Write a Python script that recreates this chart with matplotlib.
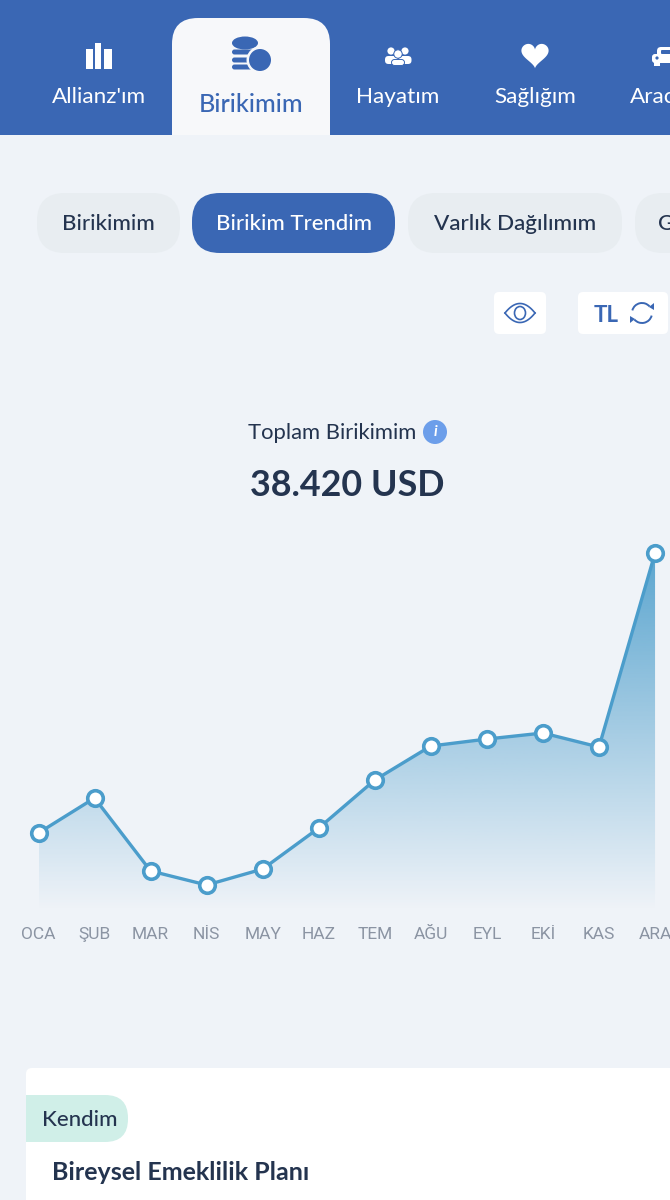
import matplotlib
matplotlib.use("Agg")
import matplotlib.pyplot as plt
import numpy as np
from matplotlib.colors import to_rgb
from matplotlib.patches import Circle, Ellipse, FancyBboxPatch, Polygon, Rectangle, Arc

plt.rcParams['font.family'] = ['Lato', 'DejaVu Sans']

# chart data (USD)
months = ['OCA', 'ŞUB', 'MAR', 'NİS', 'MAY', 'HAZ', 'TEM', 'AĞU', 'EYL', 'EKİ', 'KAS', 'ARA']
savings = [8290, 12050, 4200, 2690, 4410, 8820, 13990, 17650, 18400, 19050, 17540, 38420]

nav_labels = ["Allianz'ım", 'Hayatım', 'Sağlığım', 'Arac']
nav_x = [99, 398, 535, 630]
pill_labels = ['Birikimim', 'Birikim Trendim', 'Varlık Dağılımım']

BLUE = '#3a67b4'
PAGE = '#eff3f8'
DARK = '#24344f'
LINE = '#4b9dcb'


def box(ax, x0, y0, x1, y1, r, color, z=5):
    ax.add_patch(FancyBboxPatch((x0, y0), x1 - x0, y1 - y0, boxstyle=f'round,pad=0,rounding_size={r}',
                                fc=color, ec='none', zorder=z))


fig = plt.figure(figsize=(6.7, 12), dpi=100, facecolor=PAGE)

# page furniture, in pixel coordinates
ui = fig.add_axes([0, 0, 1, 1])
ui.set_xlim(0, 670)
ui.set_ylim(1200, 0)
ui.axis('off')

ui.add_patch(Rectangle((0, 0), 670, 134.5, fc=BLUE, ec='none', zorder=1))
box(ui, 172, 18, 330, 170, 26, '#f7f8fa', z=2)
ui.add_patch(Rectangle((0, 134.5), 670, 1066, fc=PAGE, ec='none', zorder=3))

for label, x in zip(nav_labels, nav_x):
    ha = 'left' if label == 'Arac' else 'center'
    ui.text(x, 97, label, color='white', fontsize=16.2, ha=ha, va='center', zorder=6)
ui.text(251, 104, 'Birikimim', color=BLUE, fontsize=18, fontweight='medium', ha='center', va='center', zorder=6)

# bars icon
for x0, x1, top in [(86, 93, 49), (95, 101, 43), (104, 112, 49)]:
    ui.add_patch(Rectangle((x0, top), x1 - x0, 69 - top, fc='white', ec='none', zorder=6))

# coins icon
ui.add_patch(Ellipse((245, 43), 26, 13, fc=BLUE, ec='none', zorder=6))
for y in [52, 60, 67]:
    box(ui, 232, y - 2.5, 256, y + 2.5, 2.5, BLUE, z=6)
ui.add_patch(Circle((260, 60), 13.5, fc='#f7f8fa', ec='none', zorder=7))
ui.add_patch(Circle((260, 60), 11, fc=BLUE, ec='none', zorder=8))

# people icon
for cx in [391, 405]:
    ui.add_patch(Circle((cx, 51), 3.6, fc='white', ec='none', zorder=6))
    box(ui, cx - 6, 56, cx + 6.5, 64, 3.5, 'white', z=6)
ui.add_patch(Circle((398, 54), 4.2, fc='white', ec=BLUE, lw=0.7, zorder=7))
ui.add_patch(FancyBboxPatch((391.5, 59.5), 13, 6, boxstyle='round,pad=0,rounding_size=3', fc='white', ec=BLUE, lw=0.7, zorder=7))

# heart icon
hx = np.linspace(0, 2 * np.pi, 120)
ui.add_patch(Polygon(np.column_stack([535 + 0.85 * 16 * np.sin(hx) ** 3,
                                      54 - 0.85 * (13 * np.cos(hx) - 5 * np.cos(2 * hx) - 2 * np.cos(3 * hx) - np.cos(4 * hx))]),
                     fc='white', ec='none', zorder=6))

# car icon
box(ui, 652, 54, 690, 63, 3, 'white', z=6)
box(ui, 657, 47, 690, 58, 4, 'white', z=6)
box(ui, 661, 50, 690, 54, 1, BLUE, z=7)
ui.add_patch(Rectangle((654, 62), 6, 4, fc='white', ec='none', zorder=6))
ui.add_patch(Circle((657, 58), 1.6, fc=BLUE, ec='none', zorder=7))

# pills
box(ui, 37, 193, 180, 253, 28, '#e8edf1')
box(ui, 192, 193, 395, 253, 28, BLUE)
box(ui, 408, 193, 622, 253, 28, '#e8edf1')
box(ui, 635, 193, 720, 253, 28, '#e8edf1')
ui.text(108, 224, pill_labels[0], color=DARK, fontsize=16, fontweight='medium', ha='center', va='center', zorder=6)
ui.text(294, 224, pill_labels[1], color='white', fontsize=15.9, fontweight='medium', ha='center', va='center', zorder=6)
ui.text(515, 224, pill_labels[2], color=DARK, fontsize=16.2, fontweight='medium', ha='center', va='center', zorder=6)
ui.text(658, 224, 'G', color=DARK, fontsize=15.5, fontweight='medium', ha='left', va='center', zorder=6)

# eye and currency buttons
box(ui, 494, 292, 546, 334, 5, 'white')
box(ui, 578, 292, 668, 334, 5, 'white')
ex = np.linspace(505, 535, 40)
eh = 9.5 * (1 - ((ex - 520) / 15) ** 2)
ui.plot(ex, 313 - eh, color=BLUE, lw=1.2, zorder=6)
ui.plot(ex, 313 + eh, color=BLUE, lw=1.2, zorder=6)
ui.add_patch(Ellipse((520, 313), 11, 13, fc='none', ec=BLUE, lw=1.2, zorder=6))
ui.text(606, 315, 'TL', color=BLUE, fontsize=16, fontweight='bold', ha='center', va='center', zorder=6)
ui.add_patch(Arc((642, 313), 20, 20, theta1=195, theta2=320, color=BLUE, lw=1.4, zorder=6))
ui.add_patch(Arc((642, 313), 20, 20, theta1=15, theta2=140, color=BLUE, lw=1.4, zorder=6))
ui.add_patch(Polygon([(649, 307), (654, 303), (654, 310)], fc=BLUE, ec='none', zorder=6))
ui.add_patch(Polygon([(635, 319), (630, 323), (630, 316)], fc=BLUE, ec='none', zorder=6))

# heading
ui.text(332, 433, 'Toplam Birikimim', color=DARK, fontsize=15.8, ha='center', va='center', zorder=6)
ui.add_patch(Circle((435, 432), 12, fc='#6c9eea', ec='none', zorder=6))
ui.text(435, 432, 'i', color='white', fontsize=11, fontweight='bold', style='italic', ha='center', va='center', zorder=7)
ui.text(347, 485, '38.420 USD', color=DARK, fontsize=25.8, fontweight='bold', ha='center', va='center', zorder=6)

# card under the chart
box(ui, 26, 1068, 720, 1260, 6, 'white')
box(ui, 0, 1095, 128, 1142, 23, '#d0efe8', z=6)
ui.add_patch(Rectangle((0, 1090), 26, 60, fc=PAGE, ec='none', zorder=7))
ui.text(42, 1120, 'Kendim', color=DARK, fontsize=16, fontweight='medium', ha='left', va='center', zorder=8)
ui.text(52, 1173, 'Bireysel Emeklilik Planı', color=DARK, fontsize=18, fontweight='bold', ha='left', va='center', zorder=8)

# the chart itself
x = np.arange(len(months))
step = 56.05
ax = fig.add_axes([0, (1200 - 910) / 1200, 1, 380 / 1200], facecolor='none')
ax.set_xlim(-38.5 / step, (670 - 38.5) / step)
ax.set_ylim(0, 40900)

area = ax.fill_between(x, 0, savings, color='none', lw=0)
grad = np.ones((256, 1, 4))
grad[:, :, :3] = to_rgb(LINE)
grad[:, 0, 3] = np.linspace(0.9, 0, 256)
im = ax.imshow(grad, extent=[x[0], x[-1], 0, max(savings)], aspect='auto', origin='upper', zorder=1)
im.set_clip_path(area.get_paths()[0], transform=ax.transData)
ax.set_xlim(-38.5 / step, (670 - 38.5) / step)
ax.set_ylim(0, 40900)

ax.plot(x, savings, color=LINE, lw=2.4, marker='o', ms=11.2, mew=2.6, mfc='white', mec=LINE, clip_on=False, zorder=3)

ax.set_xticks(x)
ax.set_xticklabels(months, color='#8b94a3', fontsize=12.5, family=['Roboto', 'DejaVu Sans'])
ax.set_yticks([])
ax.tick_params(axis='x', length=0, pad=12.5)
for s in ax.spines.values():
    s.set_visible(False)

fig.savefig('out.png', dpi=100, facecolor=PAGE)
